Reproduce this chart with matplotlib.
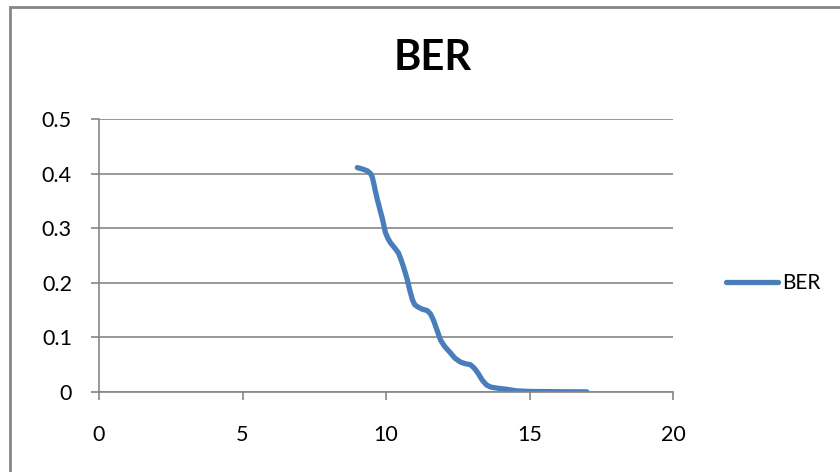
import matplotlib.pyplot as plt
from matplotlib.patches import Rectangle

# BER curve
snr = [9.0, 9.2, 9.35, 9.46, 9.52, 9.57, 9.63, 9.7, 9.79, 9.88, 9.98, 10.07, 10.16,
       10.3, 10.43, 10.52, 10.61, 10.68, 10.75, 10.83, 10.92, 11.0, 11.1, 11.25,
       11.44, 11.55, 11.65, 11.78, 11.9, 12.05, 12.24, 12.4, 12.59, 12.75, 12.94,
       13.07, 13.2, 13.35, 13.5, 13.65, 13.88, 14.2, 14.57, 15.0, 16.0, 17.0]
ber = [0.411, 0.408, 0.405, 0.400, 0.394, 0.383, 0.368, 0.352, 0.334, 0.316, 0.292,
       0.281, 0.273, 0.264, 0.255, 0.243, 0.229, 0.217, 0.204, 0.186, 0.169, 0.160,
       0.156, 0.152, 0.149, 0.143, 0.132, 0.113, 0.095, 0.083, 0.072, 0.062, 0.055,
       0.052, 0.050, 0.044, 0.035, 0.022, 0.013, 0.009, 0.007, 0.005, 0.002, 0.001,
       0.0005, 0.0002]

x_ticks = [0, 5, 10, 15, 20]
y_ticks = [0, 0.1, 0.2, 0.3, 0.4, 0.5]
y_labels = ["0", "0.1", "0.2", "0.3", "0.4", "0.5"]

plt.rcParams["font.family"] = ["Lato", "DejaVu Sans"]
grey = "#868686"

fig = plt.figure(figsize=(8.4, 4.72), dpi=100)
fig.patches.append(Rectangle((10 / 840, -0.1), 1.2, 1.1 - 7 / 472, transform=fig.transFigure,
                             fill=False, edgecolor=grey, linewidth=2))

ax = fig.add_axes([99 / 840, 1 - 392 / 472, 574 / 840, 273 / 472])
ax.plot(snr, ber, color="#4a7ebb", linewidth=3.8, solid_capstyle="round",
        solid_joinstyle="round", label="BER")

ax.set_xlim(0, 20)
ax.set_ylim(0, 0.5)
ax.set_xticks(x_ticks)
ax.set_yticks(y_ticks)
ax.set_yticklabels(y_labels)
ax.tick_params(colors=grey, labelcolor="black", labelsize=15.5, length=5.5, width=1.2)
ax.tick_params(axis="y", pad=14)
ax.tick_params(axis="x", pad=18)
ax.grid(axis="y", color=grey, linewidth=1.2)
ax.set_axisbelow(True)
for side in ["top", "right"]:
    ax.spines[side].set_visible(False)
for side in ["left", "bottom"]:
    ax.spines[side].set_color(grey)
    ax.spines[side].set_linewidth(1.2)

fig.text(433 / 840, 1 - 58 / 472, "BER", ha="center", va="center", fontsize=30, fontweight="bold")
ax.legend(loc="center left", bbox_to_anchor=(1.06, 0.4), frameon=False, fontsize=15,
          handlelength=2.5, handletextpad=0.2)

fig.savefig("out.png", dpi=100)
